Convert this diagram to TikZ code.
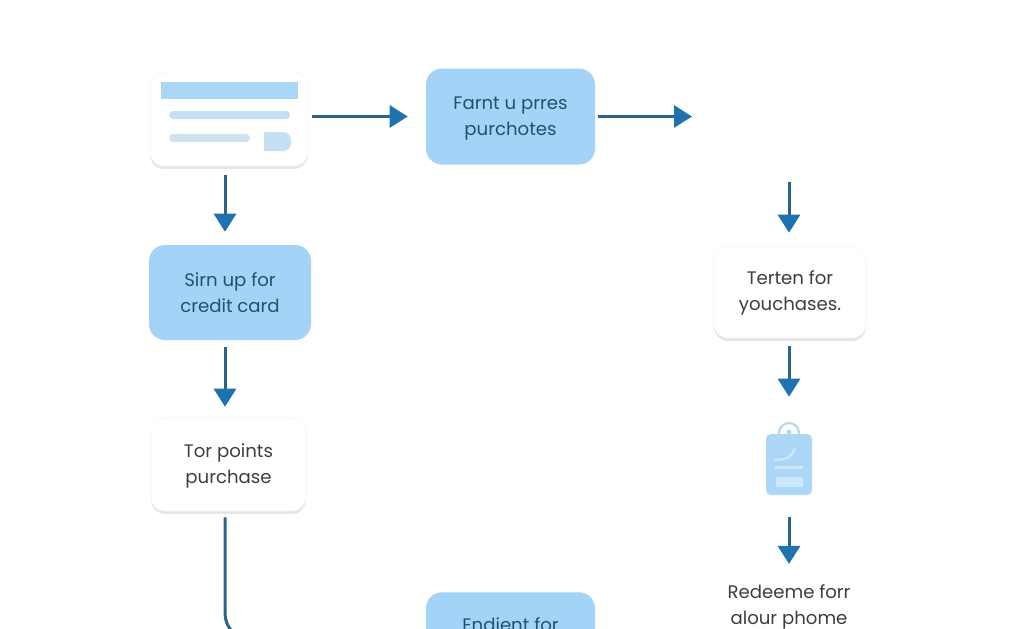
\documentclass[tikz,border=0pt]{standalone}
\usepackage{fontspec}
\setmainfont{Poppins}
\usetikzlibrary{arrows.meta,shadows}
\definecolor{boxblue}{HTML}{A3D3F7}
\definecolor{linkblue}{HTML}{2B6488}
\definecolor{tipblue}{HTML}{1F72B0}
\definecolor{bluetext}{HTML}{24506F}
\definecolor{greytext}{HTML}{3A3F44}
\definecolor{cardbar}{HTML}{A9D8F7}
\definecolor{cardline}{HTML}{C6E0F3}
\definecolor{cardgrey}{HTML}{CFE2F0}
\definecolor{tagblue}{HTML}{ABD6F5}
\definecolor{tagring}{HTML}{B9D6EA}
\definecolor{taglight}{HTML}{CBE8FD}
\def\px{.75pt}
\def\tstrut{\rule[-2.25pt]{0pt}{14.25pt}}
\begin{document}
\begin{tikzpicture}
 [
  x=\px, y=-\px,
  >={Triangle[length=18*\px, width=22*\px, color=tipblue]},
  label text/.style = {align = center, font = \fontsize{13.6pt}{19.5pt}\selectfont},
  bluebox/.style  = {label text, fill = boxblue, rounded corners = 16*\px, text = bluetext},
  whitebox/.style = {label text, draw = black!4, fill = white, rounded corners = 14*\px, text = greytext,
                     drop shadow = {shadow xshift = 0pt, shadow yshift = -2.2pt, fill = black!10, opacity = 1}},
  plain/.style    = {label text, text = greytext},
  link/.style     = {->, draw = linkblue, line width = 3*\px},
 ]
 \useasboundingbox (0,0) rectangle (1024,628);

 % left column
 \coordinate (spine) at (225,0);
 \node (card) at (229,119) [whitebox, minimum width = 158*\px, minimum height = 94*\px]{};
 \node (signup) at (230,292.5) [bluebox, minimum width = 162*\px, minimum height = 95*\px]{\tstrut Sirn up for\\credit card\tstrut};
 \node (tor) at (228.5,464.5) [whitebox, minimum width = 155*\px, minimum height = 93*\px]{\tstrut Tor points\\purchase\tstrut};

 % card details
 \fill[cardbar] (161,82) rectangle (298,99);
 \fill[cardline, rounded corners = 4*\px] (169,111) rectangle (290,119);
 \fill[cardgrey, rounded corners = 4*\px] (169,134) rectangle (250,142);
 \fill[cardline] (264,132) -- (283,132) arc (90:0:8*\px) -- (291,143) arc (0:-90:8*\px) -- (264,151) -- cycle;

 % top row and right column
 \node (farnt) at (510.5,116.5) [bluebox, minimum width = 169*\px, minimum height = 96*\px]{\tstrut Farnt u prres\\purchotes\tstrut};
 \coordinate (gap) at (789,116.5);
 \node (terten) at (790,292) [whitebox, minimum width = 152*\px, minimum height = 92*\px]{\tstrut Terten for\\youchases.\tstrut};
 \node (tag) at (789,459) [minimum width = 46*\px, minimum height = 72*\px, inner sep = 0pt]{};
 \node (redeem) at (789,606) [plain]{\tstrut Redeeme forr\\alour phome\tstrut};
 \node (endient) at (510.5,592) [bluebox, anchor = north, inner ysep = 0pt, text height = 39*\px, text depth = 57*\px, minimum width = 169*\px]{Endient for};

 % tag icon
 \draw[tagring, line width = 2.2*\px] (779,436) -- (779,433) arc (180:0:10*\px) -- (799,436);
 \fill[tagblue, rounded corners = 5*\px] (766,434) rectangle (812,495);
 \fill[tagring] (789,432) circle (2.5*\px);
 \draw[taglight, line width = 2.5*\px] (775,460) -- (784,459) .. controls (790,458) and (793,453) .. (795,448);
 \draw[taglight, line width = 3*\px] (775,467) -- (803,467);
 \fill[taglight, rounded corners = 1*\px] (776,477) rectangle (803,487);

 % connectors
 \draw[link, shorten <= 4*\px, shorten >= 18*\px] (card.east |- farnt.west) -- (farnt.west);
 \draw[link, shorten <= 3*\px, shorten >= 97*\px] (farnt.east) -- (gap);
 \draw[link, shorten <= 9*\px, shorten >= 13*\px] (spine |- card.south) -- (spine |- signup.north);
 \draw[link, shorten <= 7*\px, shorten >= 11*\px] (spine |- signup.south) -- (spine |- tor.north);
 \draw[link, shorten <= 65*\px, shorten >= 13*\px] (gap) -- (gap |- terten.north);
 \draw[link, shorten <= 8*\px, shorten >= 26*\px] (gap |- terten.south) -- (tag.north);
 \draw[link, shorten <= 22*\px, shorten >= 14*\px] (tag.south) -- (gap |- redeem.north);
 \draw[link, shorten <= 6*\px, rounded corners = 27*\px] (spine |- tor.south) |- (endient.west);
\end{tikzpicture}
\end{document}
